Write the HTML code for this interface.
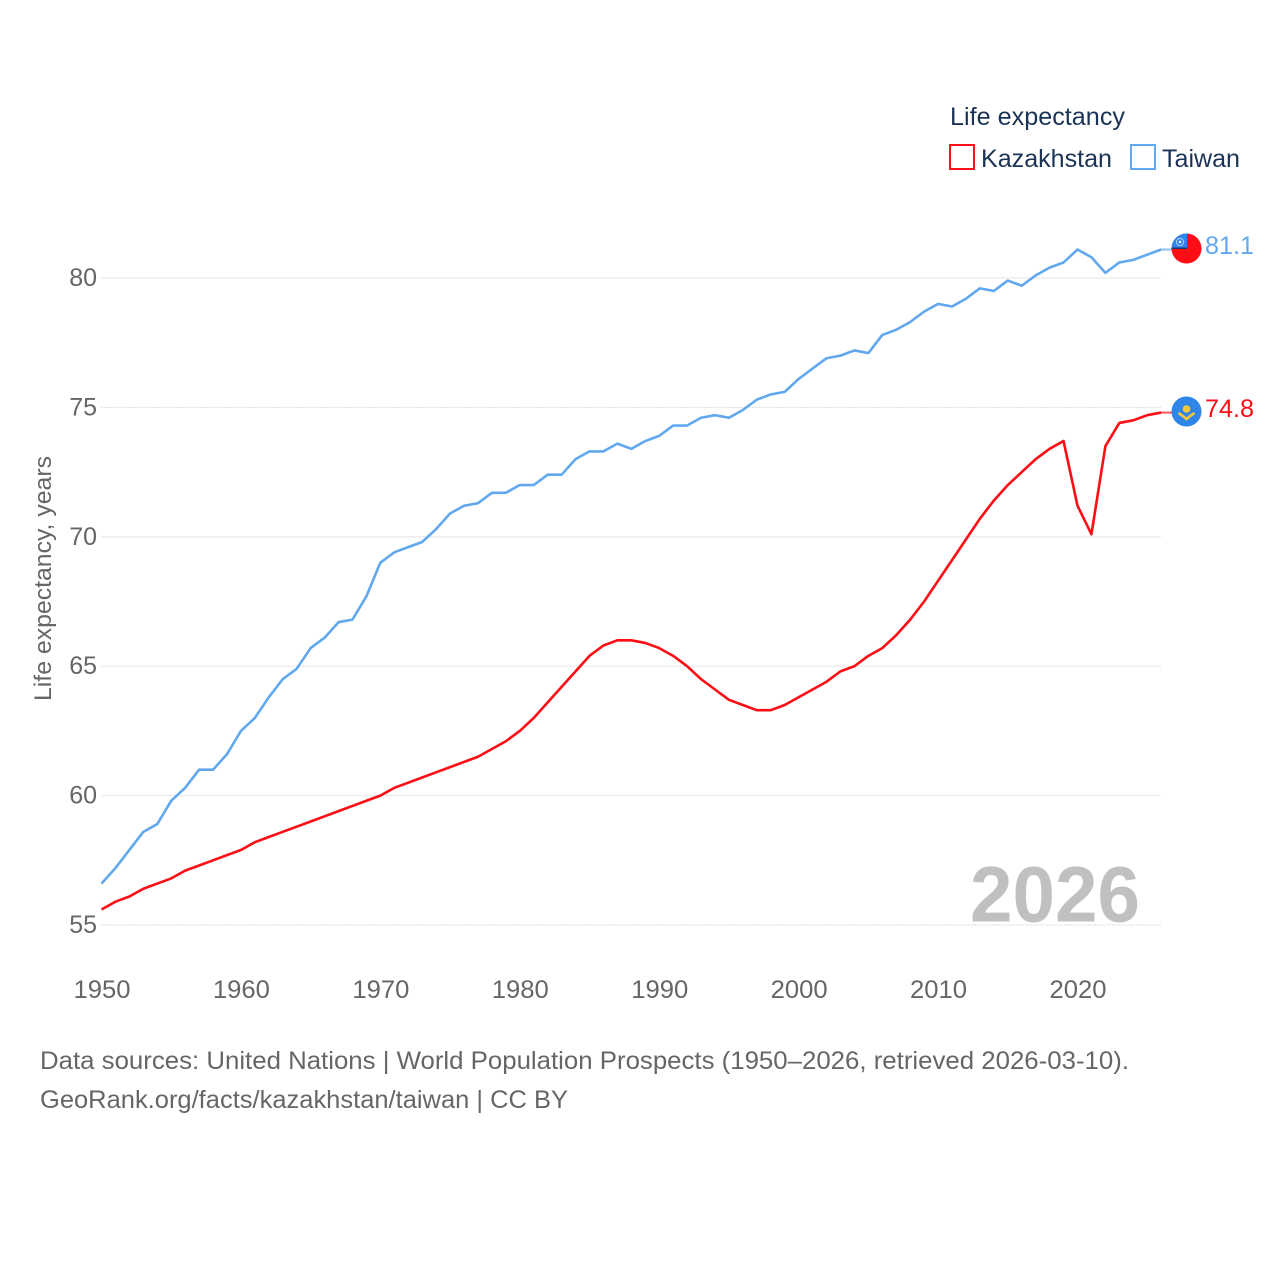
<!DOCTYPE html>
<html lang="en">
<head>
<meta charset="utf-8">
<title>Life expectancy: Kazakhstan and Taiwan</title>
<style>
html,body{margin:0;padding:0;background:#fff;}
svg{display:block;font-family:"Liberation Sans",sans-serif;}
</style>
</head>
<body>
<svg id="chart" xmlns="http://www.w3.org/2000/svg" width="1280" height="1280" viewBox="0 0 1280 1280">
  <rect width="1280" height="1280" fill="#ffffff"/>
  <g id="grid"></g>
  <g id="yticks"></g>
  <g id="xticks"></g>
  <text transform="translate(51 701) rotate(-90)" font-size="24" fill="#666666" textLength="245" lengthAdjust="spacingAndGlyphs">Life expectancy, years</text>
  <text x="970" y="921.5" font-size="79" font-weight="700" fill="#c0c0c0" textLength="170" lengthAdjust="spacingAndGlyphs">2026</text>
  <g id="series"></g>

  <g>
    <text x="950" y="125" font-size="25" fill="#1b3354" textLength="175" lengthAdjust="spacingAndGlyphs">Life expectancy</text>
    <g>
      <rect x="950" y="145" width="24" height="24" fill="#ffffff" stroke="#ff0f17" stroke-width="2"/>
      <text x="981" y="167" font-size="25" fill="#1b3354" textLength="131" lengthAdjust="spacingAndGlyphs">Kazakhstan</text>
    </g>
    <g>
      <rect x="1131" y="145" width="24" height="24" fill="#ffffff" stroke="#62a8ef" stroke-width="2"/>
      <text x="1162" y="167" font-size="25" fill="#1b3354" textLength="78" lengthAdjust="spacingAndGlyphs">Taiwan</text>
    </g>
  </g>

  <defs>
    <clipPath id="flag-clip-tw"><circle cx="1186.5" cy="248.5" r="15"/></clipPath>
  </defs>
  <g id="flag-taiwan">
    <circle cx="1186.5" cy="248.5" r="15" fill="#fe0d14"/>
    <g clip-path="url(#flag-clip-tw)">
      <rect x="1171" y="233" width="16" height="15.5" fill="#2f86e8"/>
      <rect x="1171" y="247.5" width="16" height="1.5" fill="#1d3a6b"/>
      <circle cx="1180" cy="242" r="3.6" fill="none" stroke="#a9cff6" stroke-width="1"/>
      <circle cx="1180" cy="242" r="1.2" fill="#ffffff"/>
    </g>
  </g>
  <g id="flag-kazakhstan">
    <circle cx="1186.5" cy="411.5" r="15" fill="#2f86e8"/>
    <circle cx="1186.5" cy="409" r="3.8" fill="#f5c93b"/>
    <path d="M1178.5 413 Q1182.5 415.5 1186.5 419 Q1190.5 415.5 1194.5 413" fill="none" stroke="#f5c93b" stroke-width="2.6"/>
  </g>
  <text x="1205" y="254" font-size="25" fill="#62a8ef" textLength="49" lengthAdjust="spacingAndGlyphs">81.1</text>
  <text x="1205" y="417" font-size="25" fill="#fe0d14" textLength="49" lengthAdjust="spacingAndGlyphs">74.8</text>

  <g>
    <text x="40" y="1069" font-size="25" fill="#666666" textLength="1089" lengthAdjust="spacingAndGlyphs">Data sources: United Nations | World Population Prospects (1950–2026, retrieved 2026-03-10).</text>
    <text x="40" y="1108" font-size="25" fill="#666666" textLength="528" lengthAdjust="spacingAndGlyphs">GeoRank.org/facts/kazakhstan/taiwan | CC BY</text>
  </g>
</svg>
<script>
const startYear = 1950;
const yTickValues = [55, 60, 65, 70, 75, 80];
const xTickValues = [1950, 1960, 1970, 1980, 1990, 2000, 2010, 2020];
const taiwanValues = [
  56.6,57.2,57.9,58.6,58.9,59.8,60.3,61.0,61.0,61.6,
  62.5,63.0,63.8,64.5,64.9,65.7,66.1,66.7,66.8,67.7,
  69.0,69.4,69.6,69.8,70.3,70.9,71.2,71.3,71.7,71.7,
  72.0,72.0,72.4,72.4,73.0,73.3,73.3,73.6,73.4,73.7,
  73.9,74.3,74.3,74.6,74.7,74.6,74.9,75.3,75.5,75.6,
  76.1,76.5,76.9,77.0,77.2,77.1,77.8,78.0,78.3,78.7,
  79.0,78.9,79.2,79.6,79.5,79.9,79.7,80.1,80.4,80.6,
  81.1,80.8,80.2,80.6,80.7,80.9,81.1
];
const kazakhstanValues = [
  55.6,55.9,56.1,56.4,56.6,56.8,57.1,57.3,57.5,57.7,
  57.9,58.2,58.4,58.6,58.8,59.0,59.2,59.4,59.6,59.8,
  60.0,60.3,60.5,60.7,60.9,61.1,61.3,61.5,61.8,62.1,
  62.5,63.0,63.6,64.2,64.8,65.4,65.8,66.0,66.0,65.9,
  65.7,65.4,65.0,64.5,64.1,63.7,63.5,63.3,63.3,63.5,
  63.8,64.1,64.4,64.8,65.0,65.4,65.7,66.2,66.8,67.5,
  68.3,69.1,69.9,70.7,71.4,72.0,72.5,73.0,73.4,73.7,
  71.2,70.1,73.5,74.4,74.5,74.7,74.8
];

const NS = 'http://www.w3.org/2000/svg';
function xScale(year) { return 101.5 + (year - 1950) * (976 / 70); }
function yScale(value) { return 278 + (80 - value) * (647 / 25); }
function make(tag, parent, props) {
  const el = document.createElementNS(NS, tag);
  for (const k in props) el.setAttribute(k, props[k]);
  parent.appendChild(el);
  return el;
}
const gridGroup = document.getElementById('grid');
const yGroup = document.getElementById('yticks');
const xGroup = document.getElementById('xticks');
const seriesGroup = document.getElementById('series');

yTickValues.forEach(function (v) {
  const solid = v % 10 === 0;
  const line = make('line', gridGroup, {
    x1: 101, x2: 1161, y1: yScale(v), y2: yScale(v),
    stroke: solid ? '#eeeeee' : '#dddddd',
    'stroke-width': solid ? 1.6 : 1,
    'stroke-dasharray': solid ? 'none' : '2 1'
  });
  
  
  const label = make('text', yGroup, {
    x: 97, y: yScale(v) + 8, 'font-size': 25, fill: '#666666', 'text-anchor': 'end'
  });
  label.textContent = String(v);
  
  
});

xTickValues.forEach(function (y) {
  const label = make('text', xGroup, {
    x: xScale(y) - 28, y: 998, 'font-size': 25, fill: '#666666',
    textLength: 57, lengthAdjust: 'spacingAndGlyphs'
  });
  label.textContent = String(y);
  
  
});

function drawSeries(values, color, name) {
  const pts = values.map(function (v, i) {
    return xScale(startYear + i).toFixed(2) + ',' + yScale(v).toFixed(2);
  });
  const lastY = yScale(values[values.length - 1]);
  const lastX = xScale(startYear + values.length - 1);
  const connector = make('line', seriesGroup, {
    x1: lastX, x2: 1172, y1: lastY, y2: lastY,
    stroke: color, 'stroke-width': 2, opacity: 0.7
  });
  
  
  const line = make('polyline', seriesGroup, {
    points: pts.join(' '), fill: 'none', stroke: color,
    'stroke-width': 2.6, 'stroke-linejoin': 'round'
  });
  
  
}
drawSeries(taiwanValues, '#62a8ef', 'taiwan');
drawSeries(kazakhstanValues, '#fe0d14', 'kazakhstan');
</script>
</body>
</html>
